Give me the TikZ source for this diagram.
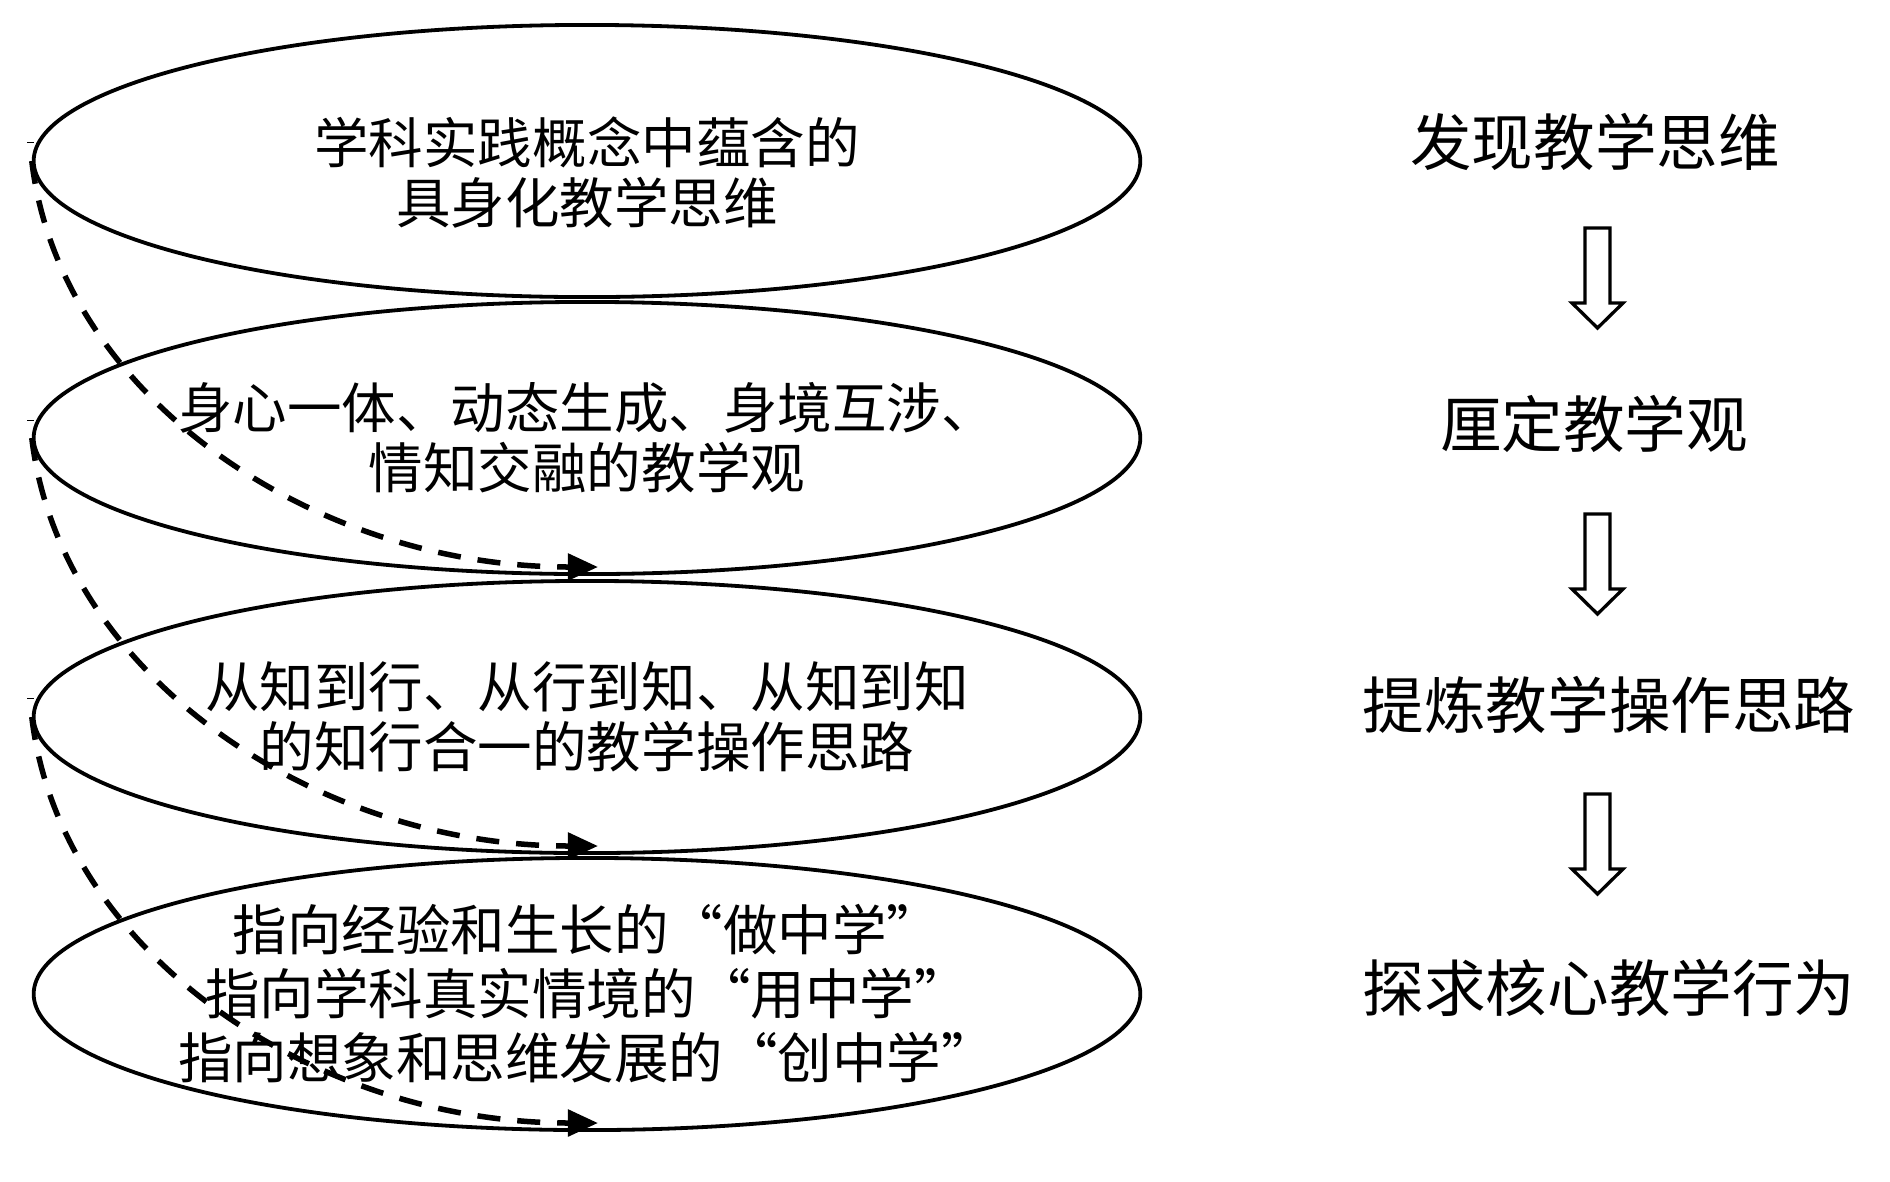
\documentclass[tikz,border=0pt]{standalone}
\usepackage{fontspec}
\newfontfamily\cjk{Noto Sans CJK SC}
\usetikzlibrary{shapes.geometric, arrows.meta}

\begin{document}
\begin{tikzpicture}[x=0.01cm, y=-0.01cm, line width=0.38mm,
  stage/.style={draw, ellipse, minimum width=11.06cm, minimum height=2.72cm,
    inner xsep=-3cm, inner ysep=-1cm, align=center,
    font=\cjk\fontsize{15.5}{17}\selectfont},
  goal/.style={inner sep=0pt, font=\cjk\fontsize{17.5}{20}\selectfont},
  flow/.style={line width=0.55mm, dash pattern=on 2.3mm off 1.7mm,
    -{Triangle[length=3mm, width=2.6mm]}},
  hollow/.style={line width=0.33mm, fill=white}]
\useasboundingbox (0, 0) rectangle (1890, 1181);
%stages
\node[stage] (e1) at (587, 161) {\rule{0pt}{20pt}学科实践概念中蕴含的\\具身化教学思维};
\node[stage] (e2) at (587, 438) {身心一体、动态生成、身境互涉、\\情知交融的教学观};
\node[stage] (e3) at (587, 717) {从知到行、从行到知、从知到知\\的知行合一的教学操作思路};
\node[stage, font=\cjk\fontsize{15.5}{18.2}\selectfont] (e4) at (587, 994)
  {指向经验和生长的“做中学”\\指向学科真实情境的“用中学”\\指向想象和思维发展的“创中学”};
%small marks left of the stages
\foreach \y in {142, 420, 698}
  \draw[line width=0.1mm] (27, \y) -- (34, \y);
%dashed links
\coordinate (t2) at (598, 567);
\coordinate (t3) at (598, 846);
\coordinate (t4) at (598, 1123);
\draw[flow] (e1.west) .. controls +(28, 235) and +(-285, 0) .. (t2);
\draw[flow] (e2.west) .. controls +(28, 235) and +(-285, 0) .. (t3);
\draw[flow] (e3.west) .. controls +(28, 235) and +(-285, 0) .. (t4);
%steps on the right
\node[goal] (g1) at (1595, 142) {发现教学思维};
\node[goal] (g2) at (1594, 424) {厘定教学观};
\node[goal] (g3) at (1609, 705) {提炼教学操作思路};
\node[goal] (g4) at (1609, 988) {探求核心教学行为};
\foreach \t in {228, 514, 794}
  \draw[hollow] (1585, \t) -- (1610, \t) -- (1610, \t+75) -- (1623, \t+75)
    -- (1597.5, \t+100) -- (1572, \t+75) -- (1585, \t+75) -- cycle;
\end{tikzpicture}
\end{document}
